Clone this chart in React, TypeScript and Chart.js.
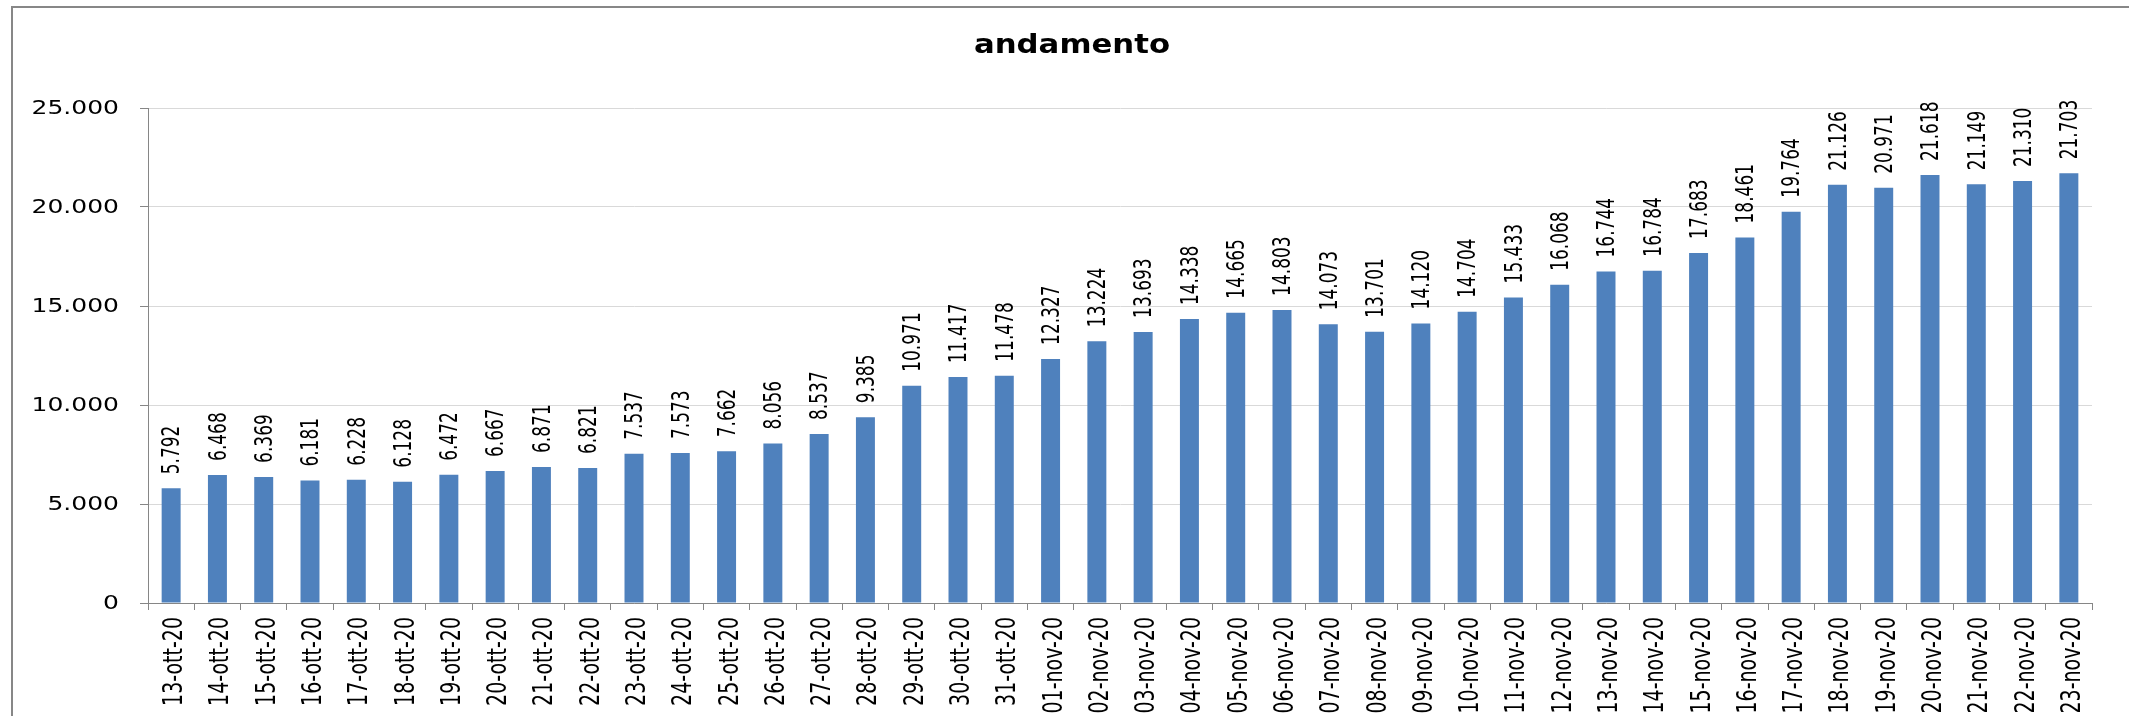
import React, { useEffect, useRef } from 'react';
import { Chart, registerables } from 'chart.js';

Chart.register(...registerables);

const categories = [
  '13-ott-20', '14-ott-20', '15-ott-20', '16-ott-20', '17-ott-20', '18-ott-20', '19-ott-20',
  '20-ott-20', '21-ott-20', '22-ott-20', '23-ott-20', '24-ott-20', '25-ott-20', '26-ott-20',
  '27-ott-20', '28-ott-20', '29-ott-20', '30-ott-20', '31-ott-20',
  '01-nov-20', '02-nov-20', '03-nov-20', '04-nov-20', '05-nov-20', '06-nov-20', '07-nov-20',
  '08-nov-20', '09-nov-20', '10-nov-20', '11-nov-20', '12-nov-20', '13-nov-20', '14-nov-20',
  '15-nov-20', '16-nov-20', '17-nov-20', '18-nov-20', '19-nov-20', '20-nov-20', '21-nov-20',
  '22-nov-20', '23-nov-20',
];

const values = [
  5792, 6468, 6369, 6181, 6228, 6128, 6472,
  6667, 6871, 6821, 7537, 7573, 7662, 8056,
  8537, 9385, 10971, 11417, 11478,
  12327, 13224, 13693, 14338, 14665, 14803, 14073,
  13701, 14120, 14704, 15433, 16068, 16744, 16784,
  17683, 18461, 19764, 21126, 20971, 21618, 21149,
  21310, 21703,
];

const titleText = 'andamento';
const yMin = 0;
const yMax = 25000;
const yStep = 5000;

const FONT = '"DejaVu Sans", Verdana, sans-serif';

function fmt(n: number): string {
  return String(Math.round(n)).replace(/\B(?=(\d{3})+(?!\d))/g, '.');
}

// Draws text with the horizontal stretch seen in the reference picture.
function stretchedText(
  ctx: CanvasRenderingContext2D,
  text: string,
  x: number,
  y: number,
  opts: { font: string; align: CanvasTextAlign; baseline: CanvasTextBaseline; rotate?: number; sx: number }
) {
  ctx.save();
  ctx.translate(x, y);
  ctx.scale(opts.sx, 1);
  if (opts.rotate) ctx.rotate(opts.rotate);
  ctx.font = opts.font;
  ctx.textAlign = opts.align;
  ctx.textBaseline = opts.baseline;
  ctx.fillStyle = '#000000';
  ctx.fillText(text, 0, 0);
  ctx.restore();
}

const textPlugin = {
  id: 'textPlugin',
  afterDraw(chart: any) {
    const ctx = chart.ctx as CanvasRenderingContext2D;
    const area = chart.chartArea;
    const xScale = chart.scales.x;
    const yScale = chart.scales.y;

    // title
    stretchedText(ctx, titleText, 1072, 53, {
      font: `bold 27px ${FONT}`,
      align: 'center',
      baseline: 'alphabetic',
      sx: 1.14,
    });

    // y tick labels
    yScale.ticks.forEach((t: any) => {
      const y = yScale.getPixelForValue(t.value);
      stretchedText(ctx, fmt(t.value), area.left - 29, y + 1, {
        font: `20px ${FONT}`,
        align: 'right',
        baseline: 'middle',
        sx: 1.25,
      });
    });

    // x tick labels (rotated)
    categories.forEach((c, i) => {
      const x = xScale.getPixelForValue(i);
      stretchedText(ctx, c, x + 4, area.bottom + 14, {
        font: `19px ${FONT}`,
        align: 'right',
        baseline: 'middle',
        rotate: -Math.PI / 2,
        sx: 1.42,
      });
    });

    // value labels above bars
    const meta = chart.getDatasetMeta(0);
    meta.data.forEach((el: any, i: number) => {
      const { x, y } = el.getProps(['x', 'y'], true);
      stretchedText(ctx, fmt(values[i]), x + 2, y - 14, {
        font: `17px ${FONT}`,
        align: 'left',
        baseline: 'middle',
        rotate: -Math.PI / 2,
        sx: 1.42,
      });
    });
  },
};

export default function App() {
  const canvasRef = useRef<HTMLCanvasElement | null>(null);

  useEffect(() => {
    document.body.style.margin = '0';
    document.body.style.overflow = 'hidden';
    const canvas = canvasRef.current;
    if (!canvas) return;
    const chart = new Chart(canvas, {
      type: 'bar',
      data: {
        labels: categories,
        datasets: [
          {
            data: values,
            backgroundColor: '#4F81BD',
            borderWidth: 0,
            barPercentage: 0.41,
            categoryPercentage: 1.0,
          },
        ],
      },
      options: {
        animation: false,
        responsive: false,
        devicePixelRatio: 1,
        layout: { padding: { left: 0, right: 37, top: 108, bottom: 0 } },
        plugins: {
          legend: { display: false },
          tooltip: { enabled: false },
          title: { display: false },
        },
        scales: {
          x: {
            grid: {
              display: true,
              drawOnChartArea: false,
              drawTicks: true,
              tickLength: 7,
              color: '#868686',
              offset: true,
            },
            border: { display: true, color: '#868686', width: 1 },
            ticks: {
              autoSkip: false,
              minRotation: 90,
              maxRotation: 90,
              padding: 7,
              color: 'rgba(0,0,0,0)',
              font: { family: FONT, size: 19 },
            },
            afterFit: (s: any) => {
              s.height = 113;
            },
          },
          y: {
            min: yMin,
            max: yMax,
            ticks: {
              stepSize: yStep,
              padding: 21,
              color: 'rgba(0,0,0,0)',
              font: { family: FONT, size: 20 },
              callback: (v: any) => fmt(Number(v)),
            },
            grid: {
              color: '#D9D9D9',
              tickColor: '#868686',
              tickLength: 8,
              drawTicks: true,
            },
            border: { display: true, color: '#868686', width: 1 },
            afterFit: (s: any) => {
              s.width = 148;
            },
          },
        },
      },
      plugins: [textPlugin],
    });
    return () => chart.destroy();
  }, []);

  return (
    <div style={{ position: 'relative', width: 2129, height: 716, overflow: 'hidden', background: '#ffffff' }}>
      <div
        style={{
          position: 'absolute',
          left: 11,
          top: 6,
          width: 2400,
          height: 900,
          border: '2px solid #878787',
          boxSizing: 'border-box',
        }}
      />
      <canvas ref={canvasRef} width={2129} height={716} style={{ position: 'absolute', left: 0, top: 0, display: 'block' }} />
    </div>
  );
}
